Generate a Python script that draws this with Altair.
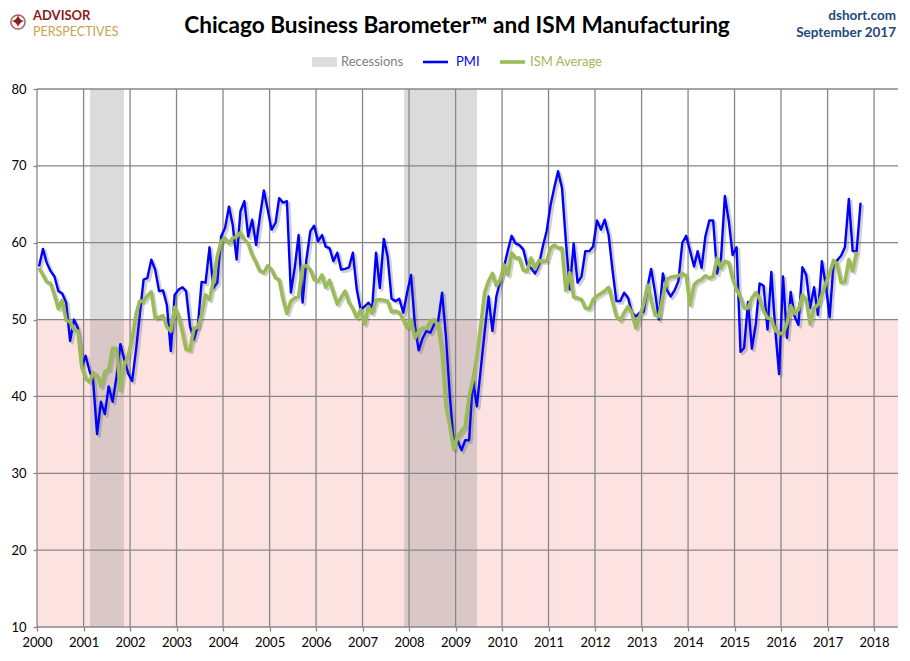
import altair as alt
import pandas as pd

# ---------------- data ----------------
# Chicago PMI, monthly from Jan 2000 to Sep 2017
pmi_values = [
    56.9, 59.2, 57.4, 56.3, 55.6, 53.7, 53.4, 52.2, 47.2, 50.0, 48.9, 43.7,   # 2000
    45.3, 43.3, 42.0, 35.1, 39.3, 37.7, 41.3, 39.3, 42.6, 46.8, 44.8, 43.0,   # 2001
    42.0, 46.1, 50.4, 55.2, 55.4, 57.8, 56.5, 53.7, 53.8, 51.9, 45.9, 53.2,   # 2002
    53.9, 54.2, 53.7, 49.1, 47.4, 49.1, 54.9, 54.8, 59.4, 54.1, 54.8, 60.8,   # 2003
    61.9, 64.7, 62.3, 57.8, 64.1, 65.4, 60.8, 63.0, 59.7, 63.4, 66.8, 64.3,   # 2004
    61.7, 62.6, 65.8, 65.2, 65.4, 53.5, 56.7, 61.0, 52.2, 57.8, 61.5, 62.2,   # 2005
    60.2, 61.0, 59.5, 59.3, 57.6, 58.7, 56.5, 56.6, 56.8, 58.7, 53.9, 51.3,   # 2006
    51.7, 52.2, 51.3, 58.7, 54.1, 60.5, 58.2, 52.7, 52.4, 52.7, 50.9, 53.5,   # 2007
    55.8, 49.1, 46.0, 47.6, 48.5, 48.3, 49.4, 49.8, 53.5, 47.8, 40.0, 34.0,   # 2008
    34.2, 33.0, 34.3, 34.3, 42.2, 38.7, 43.5, 48.4, 53.0, 48.5, 53.0, 55.0,   # 2009
    56.9, 59.1, 60.9, 59.9, 59.7, 59.1, 57.1, 56.7, 56.0, 57.1, 59.5, 61.5,   # 2010
    64.9, 67.3, 69.3, 67.1, 60.2, 53.9, 59.9, 54.8, 55.6, 58.9, 58.9, 59.5,   # 2011
    62.9, 61.7, 63.0, 61.0, 56.5, 52.4, 52.4, 53.5, 52.8, 50.9, 50.4, 50.9,   # 2012
    51.0, 54.3, 56.6, 53.5, 50.0, 56.0, 53.9, 53.0, 53.8, 55.0, 60.0, 60.9,   # 2013
    58.9, 56.9, 58.9, 56.7, 60.8, 62.9, 62.9, 56.0, 58.0, 66.1, 62.8, 58.4,   # 2014
    59.4, 45.8, 46.3, 52.3, 46.2, 49.4, 54.7, 54.4, 48.7, 56.2, 48.7, 42.9,   # 2015
    55.6, 47.6, 53.6, 50.4, 49.3, 56.8, 55.8, 51.5, 54.2, 50.6, 57.6, 54.6,   # 2016
    50.3, 57.4, 57.7, 58.3, 59.4, 65.7, 58.9, 58.9, 65.2,                     # 2017
]

# ISM Manufacturing, monthly from Jan 2000 to Aug 2017
ism_values = [
    56.7, 55.8, 54.9, 54.7, 53.2, 51.4, 52.5, 49.9, 49.7, 48.7, 48.5, 43.9,   # 2000
    42.3, 41.9, 43.1, 42.7, 41.3, 43.2, 43.5, 46.3, 46.2, 40.8, 44.1, 45.3,   # 2001
    47.5, 50.7, 52.4, 52.4, 53.1, 53.6, 50.2, 50.3, 50.5, 49.0, 48.5, 51.6,   # 2002
    50.5, 48.3, 46.1, 46.0, 48.9, 49.0, 50.6, 53.2, 52.6, 55.0, 58.2, 60.2,   # 2003
    60.6, 59.9, 60.6, 60.8, 61.3, 60.4, 59.9, 58.4, 57.4, 56.3, 56.1, 57.0,   # 2004
    56.5, 55.4, 55.2, 52.6, 50.8, 52.4, 52.8, 53.0, 56.9, 57.0, 56.5, 55.2,   # 2005
    55.0, 55.8, 54.2, 55.1, 53.5, 52.0, 52.9, 53.7, 52.2, 51.4, 50.2, 51.3,   # 2006
    49.4, 51.7, 50.8, 52.5, 52.6, 52.5, 52.4, 51.0, 51.1, 50.9, 50.0, 48.9,   # 2007
    50.0, 47.6, 48.5, 48.9, 48.9, 49.8, 50.0, 49.2, 45.7, 38.7, 36.1, 33.1,   # 2008
    34.8, 35.5, 36.1, 40.0, 42.2, 45.2, 49.1, 53.5, 55.0, 56.0, 54.4, 55.2,   # 2009
    57.1, 55.8, 58.7, 58.0, 58.0, 56.4, 56.3, 58.0, 56.6, 57.7, 57.6, 57.6,   # 2010
    59.3, 59.7, 59.3, 59.3, 53.8, 56.1, 52.9, 52.8, 52.6, 51.5, 51.4, 52.6,   # 2011
    53.1, 53.4, 53.7, 54.2, 52.4, 50.4, 49.9, 50.9, 51.7, 50.8, 48.9, 50.4,   # 2012
    52.0, 54.5, 52.5, 50.6, 50.4, 53.0, 55.2, 55.5, 55.6, 55.7, 56.0, 55.7,   # 2013
    51.9, 54.5, 55.0, 55.2, 55.7, 55.4, 55.6, 58.0, 56.7, 57.6, 57.4, 55.3,   # 2014
    53.9, 52.9, 51.5, 51.5, 52.8, 53.5, 52.7, 51.1, 50.2, 50.1, 48.6, 48.2,   # 2015
    48.2, 49.5, 51.8, 50.8, 51.3, 53.2, 52.6, 49.4, 51.5, 51.9, 53.2, 54.7,   # 2016
    56.0, 57.7, 57.2, 54.8, 54.9, 57.8, 56.3, 58.8,                           # 2017
]

recession_starts = ["2001-02-21", "2007-11-24"]
recession_ends = ["2001-11-14", "2009-06-19"]

year_ticks = list(range(2000, 2019))
value_ticks = [10, 20, 30, 40, 50, 60, 70, 80]
contraction_band = [10, 50]          # PMI below 50 = contraction (pink zone)
x_domain = ["2000-01-01", "2018-07-08"]

# ---------------- tables ----------------
def monthly(values):
    d = pd.date_range("2000-01-01", periods=len(values), freq="MS") + pd.Timedelta(days=16)
    return pd.DataFrame({"date": d.strftime("%Y-%m-%d"), "value": values})

pmi_df = monthly(pmi_values)
ism_df = monthly(ism_values)
rec_df = pd.DataFrame({"start": recession_starts, "end": recession_ends,
                       "lo": [value_ticks[0]] * 2, "hi": [value_ticks[-1]] * 2})
band_df = pd.DataFrame({"start": [x_domain[0]], "end": [x_domain[1]],
                        "lo": [contraction_band[0]], "hi": [contraction_band[1]]})
xgrid_df = pd.DataFrame({"date": [f"{y}-01-01" for y in year_ticks]})
ygrid_df = pd.DataFrame({"v": value_ticks})
one = pd.DataFrame({"a": [0]})

GRID = "#878787"
FONT = "Lato"

xscale = alt.Scale(domain=[alt.DateTime(year=2000, month=1, date=1, utc=True),
                           alt.DateTime(year=2018, month=7, date=8, utc=True)])
yscale = alt.Scale(domain=[10, 80], nice=False, zero=False)

xaxis = alt.Axis(values=[alt.DateTime(year=y, month=1, date=1, utc=True) for y in year_ticks],
                 labelExpr="utcFormat(datum.value, '%Y')", title=None, grid=False,
                 domain=False, ticks=True, tickSize=4, tickColor=GRID, tickWidth=1.3,
                 labelFont=FONT, labelFontSize=13, labelColor="#000000", labelPadding=5,
                 labelFlush=False, labelOverlap=False, labelAlign="center", labelOffset=0)
yaxis = alt.Axis(values=value_ticks, title=None, grid=False, domain=False, ticks=True,
                 tickSize=4, tickColor=GRID, tickWidth=1.3, labelFont=FONT,
                 labelFontSize=13, labelColor="#000000", labelPadding=7)

X = lambda f: alt.X(f, type="temporal", scale=xscale, axis=xaxis)
Y = lambda f: alt.Y(f, type="quantitative", scale=yscale, axis=yaxis)

band = alt.Chart(band_df).mark_rect(color="#FDE2E2").encode(
    x=X("start"), x2="end", y=Y("lo"), y2="hi")

recess = alt.Chart(rec_df).mark_rect(color="#9C9C9C", opacity=0.36).encode(
    x=X("start"), x2="end", y=Y("lo"), y2="hi")

ygrid = alt.Chart(ygrid_df).mark_rule(color=GRID, strokeWidth=1.3).encode(y=Y("v"))
xgrid = alt.Chart(xgrid_df).mark_rule(color=GRID, strokeWidth=1.3).encode(x=X("date"))

SHIFT_MS = 1.4e9   # about 2 px to the right
SHIFT_V = 0.27     # about 2 px down

def shadow(df):
    return alt.Chart(df).transform_calculate(
        sx=f"toDate(datum.date) + {SHIFT_MS}", sy=f"datum.value - {SHIFT_V}"
    ).mark_line(color="#555555", opacity=0.28, strokeWidth=3.2, strokeJoin="round").encode(
        x=X("sx"), y=Y("sy"))

pmi_line = alt.Chart(pmi_df).mark_line(color="#0000FF", strokeWidth=2.4,
                                       strokeJoin="round").encode(x=X("date"), y=Y("value"))
ism_line = alt.Chart(ism_df).mark_line(color="#9BBB59", strokeWidth=3.6,
                                       strokeJoin="round").encode(x=X("date"), y=Y("value"))

def txt(s, x, y, size, color, weight="normal", align="left", font=FONT, **kw):
    return alt.Chart(one).mark_text(text=s, fontSize=size, color=color, fontWeight=weight,
                                    align=align, baseline="middle", font=font, **kw).encode(
        x=alt.value(x), y=alt.value(y))

title = txt("Chicago Business Barometer™ and ISM Manufacturing", 420, -63, 22.6, "#000000",
            weight="bold", align="center")
site = txt("dshort.com", 859, -73, 13.5, "#1F497D", weight="bold", align="right")
date_t = txt("September 2017", 859, -56, 13.5, "#1F497D", weight="bold", align="right")

logo1 = txt("ADVISOR", -4, -73, 13, "#8B1C1C", weight="bold")
logo2 = txt("PERSPECTIVES", -4, -57.5, 12.5, "#C9A253", weight="normal")
ring = alt.Chart(one).mark_point(shape="circle", size=200, filled=False, color="#8B1C1C",
                                 strokeWidth=1.5).encode(x=alt.value(-19), y=alt.value(-67))
star = txt("✦", -19, -67, 19, "#8B1C1C", align="center", font="DejaVu Sans")

leg_rect = alt.Chart(one).mark_rect(color="#DCDCDC").encode(
    x=alt.value(275), x2=alt.value(300), y=alt.value(-32), y2=alt.value(-22))
leg_rec_t = txt("Recessions", 304, -27, 13, "#7F7F7F")
leg_pmi = alt.Chart(one).mark_rule(color="#0000FF", strokeWidth=2.6).encode(
    x=alt.value(386), x2=alt.value(411), y=alt.value(-27))
leg_pmi_t = txt("PMI", 419, -27, 13, "#0000FF")
leg_ism = alt.Chart(one).mark_rule(color="#9BBB59", strokeWidth=3.6).encode(
    x=alt.value(463), x2=alt.value(488), y=alt.value(-27))
leg_ism_t = txt("ISM Average", 493, -27, 13, "#9BBB59")

chart = alt.layer(
    band, recess, ygrid, xgrid,
    shadow(pmi_df), pmi_line, shadow(ism_df), ism_line,
    title, site, date_t, logo1, logo2, ring, star,
    leg_rect, leg_rec_t, leg_pmi, leg_pmi_t, leg_ism, leg_ism_t,
).properties(
    width=861, height=538,
    padding={"left": 29, "top": 81, "right": 4, "bottom": 34},
    autosize=alt.AutoSizeParams(type="none"),
    background="#FFFFFF",
).configure_view(stroke=None)

chart.save("out.html", embed_options={"renderer": "svg", "actions": False})
